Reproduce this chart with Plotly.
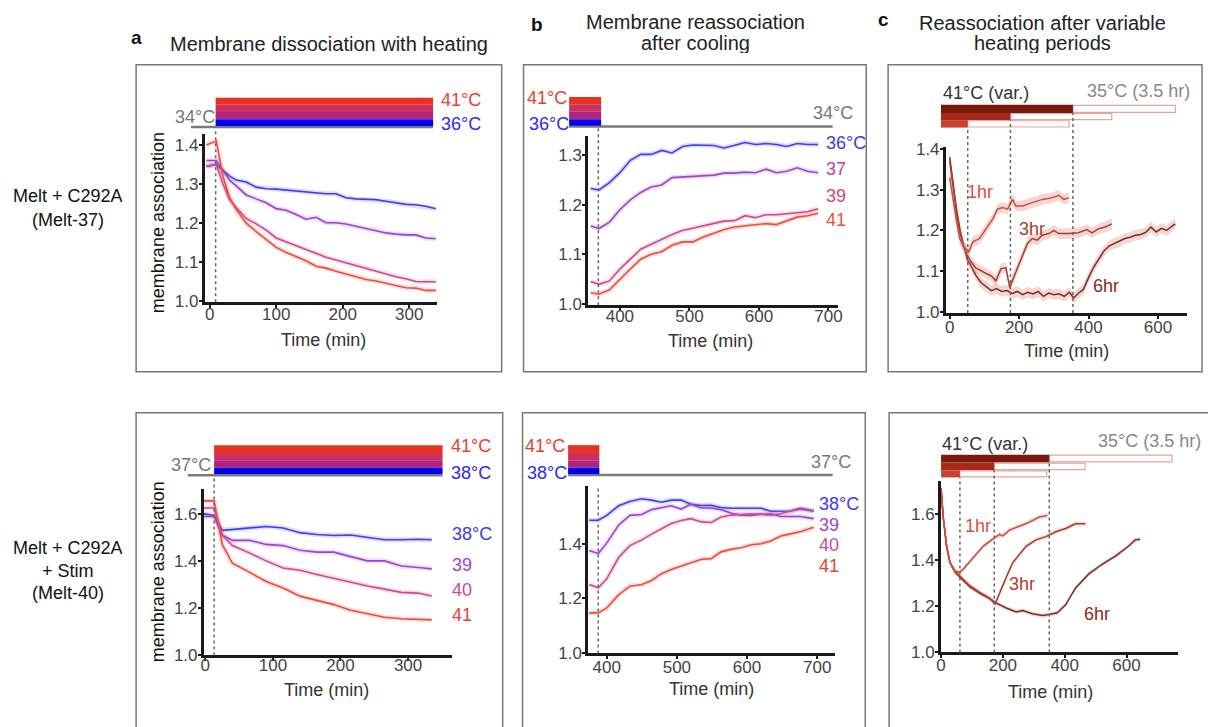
import plotly.graph_objects as go

W, H = 1208, 727
FONT = "Liberation Sans, Arial, Helvetica, sans-serif"

# ------------------------------------------------------------------ data
# Panel a, Melt-37 (heating 34 -> 36/37/39/41 C)
A1_T = [-5, 10, 20, 30, 40, 55, 70, 85, 100, 115, 130, 145, 160, 175, 190, 205, 220, 235, 250, 265, 280, 295, 310, 325, 340]
A1_36 = [1.345, 1.350, 1.335, 1.320, 1.310, 1.305, 1.292, 1.288, 1.287, 1.285, 1.282, 1.280, 1.278, 1.275, 1.275, 1.265, 1.262, 1.261, 1.260, 1.256, 1.252, 1.248, 1.247, 1.243, 1.237]
A1_37 = [1.360, 1.360, 1.335, 1.310, 1.295, 1.272, 1.262, 1.252, 1.237, 1.233, 1.222, 1.210, 1.215, 1.201, 1.201, 1.198, 1.192, 1.186, 1.180, 1.175, 1.172, 1.170, 1.170, 1.162, 1.160]
A1_39 = [1.345, 1.350, 1.300, 1.260, 1.240, 1.212, 1.198, 1.182, 1.162, 1.152, 1.143, 1.132, 1.122, 1.113, 1.106, 1.099, 1.091, 1.083, 1.076, 1.069, 1.063, 1.058, 1.051, 1.050, 1.050]
A1_41 = [1.400, 1.410, 1.320, 1.265, 1.235, 1.200, 1.178, 1.157, 1.138, 1.125, 1.114, 1.104, 1.090, 1.085, 1.077, 1.070, 1.063, 1.056, 1.052, 1.046, 1.040, 1.035, 1.034, 1.028, 1.028]

# Panel b, Melt-37 (cooling back to 34 C)
B1_T = [358, 370, 385, 400, 415, 430, 445, 460, 475, 490, 505, 520, 535, 550, 565, 580, 595, 610, 625, 640, 655, 670, 685]
B1_36 = [1.233, 1.230, 1.245, 1.265, 1.290, 1.302, 1.302, 1.310, 1.305, 1.318, 1.321, 1.321, 1.320, 1.315, 1.320, 1.326, 1.322, 1.324, 1.322, 1.318, 1.324, 1.322, 1.322]
B1_37 = [1.157, 1.152, 1.165, 1.190, 1.210, 1.225, 1.236, 1.240, 1.255, 1.256, 1.257, 1.258, 1.260, 1.264, 1.264, 1.266, 1.265, 1.272, 1.265, 1.268, 1.275, 1.268, 1.265]
B1_39 = [1.045, 1.039, 1.046, 1.070, 1.090, 1.110, 1.120, 1.130, 1.140, 1.148, 1.153, 1.158, 1.163, 1.167, 1.168, 1.178, 1.174, 1.180, 1.180, 1.182, 1.184, 1.186, 1.192]
B1_41 = [1.022, 1.019, 1.028, 1.050, 1.070, 1.090, 1.100, 1.105, 1.118, 1.125, 1.125, 1.135, 1.142, 1.150, 1.155, 1.157, 1.160, 1.162, 1.160, 1.168, 1.175, 1.178, 1.183]

# Panel c, Melt-37 (41 C for 1/3/6 hr then 35 C)
C1_6H_T = [0, 10, 20, 30, 40, 50, 60, 75, 90, 105, 120, 135, 150, 165, 180, 195, 210, 225, 240, 255, 270, 285, 300, 315, 330, 345, 357, 370, 385, 400, 415, 430, 445, 460, 475, 490, 505, 520, 535, 550, 565, 580, 595, 610, 625, 640, 650]
C1_6H = [1.380, 1.310, 1.250, 1.200, 1.165, 1.130, 1.115, 1.090, 1.072, 1.062, 1.052, 1.057, 1.050, 1.052, 1.045, 1.050, 1.042, 1.048, 1.044, 1.050, 1.038, 1.046, 1.042, 1.044, 1.038, 1.048, 1.034, 1.045, 1.055, 1.084, 1.110, 1.130, 1.150, 1.162, 1.168, 1.172, 1.180, 1.183, 1.188, 1.190, 1.195, 1.208, 1.196, 1.205, 1.200, 1.210, 1.216]
C1_3H_T = [0, 10, 20, 30, 40, 50, 60, 75, 90, 105, 120, 133, 148, 162, 173, 190, 205, 224, 238, 252, 267, 286, 300, 314, 343, 371, 395, 410, 429, 448, 467]
C1_3H = [1.370, 1.300, 1.240, 1.190, 1.160, 1.140, 1.125, 1.108, 1.100, 1.094, 1.088, 1.076, 1.106, 1.108, 1.060, 1.095, 1.130, 1.168, 1.180, 1.176, 1.188, 1.192, 1.200, 1.192, 1.192, 1.194, 1.202, 1.194, 1.204, 1.208, 1.216]
C1_1H_T = [0, 10, 20, 29, 40, 55, 67, 86, 105, 124, 138, 152, 167, 181, 190, 210, 238, 267, 295, 314, 329, 343]
C1_1H = [1.330, 1.270, 1.220, 1.180, 1.160, 1.148, 1.172, 1.180, 1.204, 1.228, 1.252, 1.256, 1.252, 1.276, 1.260, 1.260, 1.268, 1.276, 1.280, 1.286, 1.276, 1.280]
C1_SEM = 0.013

# Panel a, Melt-40 (heating 37 -> 38/39/40/41 C)
A2_T = [-2, 13, 25, 40, 65, 90, 115, 140, 165, 190, 215, 240, 265, 290, 315, 335]
A2_38 = [1.600, 1.593, 1.530, 1.534, 1.538, 1.546, 1.540, 1.520, 1.512, 1.508, 1.510, 1.500, 1.490, 1.490, 1.492, 1.490]
A2_39 = [1.589, 1.589, 1.510, 1.487, 1.488, 1.470, 1.465, 1.445, 1.437, 1.437, 1.418, 1.400, 1.400, 1.378, 1.372, 1.366]
A2_40 = [1.625, 1.625, 1.510, 1.465, 1.434, 1.400, 1.370, 1.360, 1.342, 1.325, 1.310, 1.293, 1.280, 1.266, 1.263, 1.251]
A2_41 = [1.655, 1.655, 1.470, 1.390, 1.352, 1.312, 1.285, 1.250, 1.232, 1.214, 1.190, 1.176, 1.160, 1.154, 1.151, 1.149]

# Panel b, Melt-40 (cooling back to 37 C)
B2_T = [375, 388, 400, 417, 433, 450, 464, 478, 492, 506, 520, 535, 549, 563, 578, 592, 606, 620, 634, 648, 662, 676, 695]
B2_38 = [1.486, 1.486, 1.504, 1.539, 1.555, 1.565, 1.560, 1.552, 1.560, 1.560, 1.545, 1.540, 1.541, 1.533, 1.530, 1.530, 1.530, 1.530, 1.519, 1.520, 1.520, 1.530, 1.521]
B2_39 = [1.375, 1.364, 1.402, 1.468, 1.504, 1.507, 1.525, 1.532, 1.539, 1.527, 1.545, 1.531, 1.531, 1.525, 1.512, 1.505, 1.504, 1.508, 1.510, 1.500, 1.500, 1.500, 1.492]
B2_40 = [1.250, 1.238, 1.271, 1.349, 1.393, 1.414, 1.435, 1.455, 1.474, 1.485, 1.492, 1.480, 1.478, 1.498, 1.505, 1.507, 1.510, 1.508, 1.505, 1.510, 1.520, 1.527, 1.519]
B2_41 = [1.146, 1.146, 1.164, 1.212, 1.244, 1.250, 1.265, 1.290, 1.305, 1.318, 1.330, 1.343, 1.345, 1.370, 1.380, 1.385, 1.396, 1.400, 1.410, 1.428, 1.436, 1.444, 1.460]

# Panel c, Melt-40
C2_6H_T = [0, 7, 18, 29, 45, 66, 93, 125, 157, 179, 211, 243, 264, 296, 328, 350, 376, 403, 435, 478, 521, 564, 606, 628, 644]
C2_6H = [1.710, 1.585, 1.458, 1.387, 1.345, 1.317, 1.282, 1.254, 1.232, 1.211, 1.190, 1.173, 1.179, 1.165, 1.158, 1.162, 1.169, 1.204, 1.277, 1.338, 1.380, 1.415, 1.458, 1.486, 1.489]
C2_3H_T = [0, 7, 18, 29, 45, 66, 93, 125, 157, 175, 195, 211, 232, 253, 275, 307, 339, 371, 403, 435, 467]
C2_3H = [1.710, 1.585, 1.458, 1.387, 1.350, 1.322, 1.287, 1.258, 1.232, 1.208, 1.275, 1.324, 1.387, 1.423, 1.458, 1.486, 1.500, 1.521, 1.535, 1.556, 1.556]
C2_1H_T = [0, 7, 18, 29, 45, 59, 72, 104, 136, 157, 179, 189, 200, 221, 253, 286, 318, 344]
C2_1H = [1.710, 1.585, 1.458, 1.387, 1.350, 1.345, 1.359, 1.408, 1.458, 1.479, 1.500, 1.510, 1.503, 1.528, 1.545, 1.563, 1.585, 1.592]
C2_SEM = 0.009

# Heating protocol (minutes)
A1_HEAT, A1_BASE = (9, 336), (-28, 336)
B1_HEAT, B1_BASE, B1_COOL = (327, 373), (327, 706), 369
A2_HEAT, A2_BASE = (13, 351), (-26, 351)
B2_HEAT, B2_BASE, B2_COOL = (345, 389.5), (345, 722), 388
C1_START, C1_HEAT_END, C1_REC_END = -25, [355, 175, 52], [650, 467, 344]
C2_START, C2_HEAT_END, C2_REC_END = 0, [350, 172, 61], [747, 466, 342]

# Tick labels
A_XT = [0, 100, 200, 300]
B_XT = [400, 500, 600, 700]
C_XT = [0, 200, 400, 600]

# ------------------------------------------------------------------ layout helpers
PANELS = {
    "A1": dict(n=1, dom=(202, 436, 130, 302), xr=(-7.5, 342), yr=(0.9975, 1.4275), xt=A_XT, yt=[1.0, 1.1, 1.2, 1.3, 1.4], so=-9),
    "B1": dict(n=2, dom=(588, 840, 132, 305), xr=(354.3, 714.3), yr=(0.9967, 1.339), xt=B_XT, yt=[1.0, 1.1, 1.2, 1.3], so=-9),
    "C1": dict(n=3, dom=(948, 1191, 143, 313), xr=(-11.4, 684), yr=(0.9968, 1.405), xt=C_XT, yt=[1.0, 1.1, 1.2, 1.3, 1.4], so=-6),
    "A2": dict(n=4, dom=(201, 451, 493, 663), xr=(-2.45, 365), yr=(0.998, 1.705), xt=A_XT, yt=[1.0, 1.2, 1.4, 1.6], so=-11),
    "B2": dict(n=5, dom=(588, 837, 490, 661), xr=(373.5, 726), yr=(0.997, 1.611), xt=B_XT, yt=[1.0, 1.2, 1.4], so=-7),
    "C2": dict(n=6, dom=(943, 1182, 485, 660), xr=(-1, 767), yr=(0.997, 1.74), xt=C_XT, yt=[1.0, 1.2, 1.4, 1.6], so=-8),
}


def px(x):
    return x / W


def py(y):
    return 1 - y / H


def names(p):
    n = PANELS[p]["n"]
    s = "" if n == 1 else str(n)
    return "x" + s, "y" + s


def xfrac(p, t):
    r0, r1 = PANELS[p]["xr"]
    return (t - r0) / (r1 - r0)


fig = go.Figure()
shapes = []
annotations = []

for p, c in PANELS.items():
    n = c["n"]
    s = "" if n == 1 else str(n)
    x0, x1, ytop, ybot = c["dom"]
    axcommon = dict(showgrid=False, zeroline=False, showline=True, linecolor="#1a1a1a", linewidth=2.5,
                    ticks="outside", ticklen=3, tickwidth=1.5, tickcolor="#1a1a1a",
                    tickfont=dict(family=FONT, size=17, color="#444"), fixedrange=True)
    fig.layout["xaxis" + s] = dict(axcommon, domain=[px(x0), px(x1)], range=list(c["xr"]),
                                   tickvals=c["xt"], anchor="y" + s, ticklabelstandoff=c["so"])
    fig.layout["yaxis" + s] = dict(axcommon, domain=[py(ybot), py(ytop)], range=list(c["yr"]),
                                   tickvals=c["yt"], tickformat=".1f", anchor="x" + s, ticklabelstandoff=-3)


def add_line(p, t, y, color, width=1.6, halo=True):
    xa, ya = names(p)
    if halo:
        fig.add_trace(go.Scatter(x=t, y=y, mode="lines", line=dict(color=color, width=5), opacity=0.17,
                                 xaxis=xa, yaxis=ya, hoverinfo="skip", showlegend=False))
    fig.add_trace(go.Scatter(x=t, y=y, mode="lines", line=dict(color=color, width=width),
                             xaxis=xa, yaxis=ya, showlegend=False))


def add_band(p, t, y, sem, color):
    xa, ya = names(p)
    lo = [v - sem for v in y]
    hi = [v + sem for v in y]
    fig.add_trace(go.Scatter(x=t, y=lo, mode="lines", line=dict(width=0), xaxis=xa, yaxis=ya,
                             hoverinfo="skip", showlegend=False))
    fig.add_trace(go.Scatter(x=t, y=hi, mode="lines", line=dict(width=0), fill="tonexty",
                             fillcolor="rgba(214,130,120,0.32)", xaxis=xa, yaxis=ya,
                             hoverinfo="skip", showlegend=False))
    fig.add_trace(go.Scatter(x=t, y=y, mode="lines", line=dict(color=color, width=1.5),
                             xaxis=xa, yaxis=ya, showlegend=False))


def ann(x, y, text, size=18, color="#333", xanchor="center", yanchor="middle", align="center", angle=0,
        height=None):
    d = dict(x=px(x), y=py(y), xref="paper", yref="paper", text=text, showarrow=False,
             xanchor=xanchor, yanchor=yanchor, align=align, textangle=angle,
             font=dict(family=FONT, size=size, color=color))
    if height:
        d["height"] = height
    annotations.append(d)


def ann_data(p, t, v, text, color, size=18):
    xa, ya = names(p)
    annotations.append(dict(x=t, y=v, xref=xa, yref=ya, text=text, showarrow=False, xanchor="left",
                            yanchor="middle", font=dict(family=FONT, size=size, color=color)))


def rect(p, t0, t1, ytop, ybot, fill, line_color=None, lw=0):
    xa, _ = names(p)
    shapes.append(dict(type="rect", xref=xa + " domain", yref="paper",
                       x0=xfrac(p, t0), x1=xfrac(p, t1), y0=py(ybot), y1=py(ytop),
                       fillcolor=fill, line=dict(color=line_color or fill, width=lw), layer="above"))


def hline(p, t0, t1, y, color="#7a7a7a", width=2.5):
    xa, _ = names(p)
    shapes.append(dict(type="line", xref=xa + " domain", yref="paper", x0=xfrac(p, t0), x1=xfrac(p, t1),
                       y0=py(y), y1=py(y), line=dict(color=color, width=width), layer="above"))


def vdash(p, t, ytop, ybot):
    xa, _ = names(p)
    shapes.append(dict(type="line", xref=xa, yref="paper", x0=t, x1=t, y0=py(ybot), y1=py(ytop),
                       line=dict(color="#666", width=1.5, dash="dot"), layer="above"))


STRIPES = ["#e8321e", "#cc3060", "#b0237e", "#0000ee"]
BLUE, PURPLE, PINK, RED = "#3f3ff0", "#9a44d0", "#cf4a8a", "#f04a3a"

# ---------------- panel boxes
for (x0, y0, x1, y1) in [(133, 59, 501, 373), (523, 59, 868, 373), (890, 59, 1206, 373),
                         (133, 415, 502, 745), (522, 415, 867, 745), (891, 415, 1215, 745)]:
    shapes.append(dict(type="rect", xref="paper", yref="paper", x0=px(x0), x1=px(x1), y0=py(y1), y1=py(y0),
                       line=dict(color="#777", width=1.5), fillcolor="rgba(0,0,0,0)", layer="below"))

# ---------------- A1
add_line("A1", A1_T, A1_36, BLUE)
add_line("A1", A1_T, A1_37, PURPLE)
add_line("A1", A1_T, A1_39, PINK)
add_line("A1", A1_T, A1_41, RED)
hline("A1", A1_BASE[0], A1_BASE[1], 122.8)
ys = [92.7, 100, 107.3, 114.8, 121.7]
for i, col in enumerate(STRIPES):
    rect("A1", A1_HEAT[0], A1_HEAT[1], ys[i], ys[i + 1], col)
vdash("A1", A1_HEAT[0], 124, 302)
ann(170, 112, "34°C", color="#777", xanchor="left")
ann(438, 95, "41°C", color="#e8402e", xanchor="left")
ann(438, 120, "36°C", color="#2a2aee", xanchor="left")
ann_data("A1", 352, 1.2325, "36°C", "#3a3aee")
ann_data("A1", 352, 1.160, "37", "#c03c9c")
ann_data("A1", 352, 1.090, "39", "#d0447a")
ann_data("A1", 352, 1.035, "41", "#e8503c")

# ---------------- B1
add_line("B1", B1_T, B1_36, BLUE)
add_line("B1", B1_T, B1_37, PURPLE)
add_line("B1", B1_T, B1_39, PINK)
add_line("B1", B1_T, B1_41, RED)
hline("B1", B1_BASE[0], B1_BASE[1], 122.3)
ys = [92, 99.5, 107, 114.8, 121.5]
for i, col in enumerate(STRIPES):
    rect("B1", B1_HEAT[0], B1_HEAT[1], ys[i], ys[i + 1], col)
vdash("B1", B1_COOL, 123, 305)
ann(857, 108, "34°C", color="#777", xanchor="right")
ann(569, 93, "41°C", color="#e8402e", xanchor="right")
ann(571, 120, "36°C", color="#2a2aee", xanchor="right")
ann_data("B1", 693, 1.325, "36°C", "#3a3aee")
ann_data("B1", 693, 1.272, "37", "#c03c9c")
ann_data("B1", 693, 1.2185, "39", "#d0447a")
ann_data("B1", 693, 1.170, "41", "#e8503c")

# ---------------- C panels
C_FILL = ["#78190c", "#a8281a", "#c8402f"]
C_OUT = "#e2a49c"
C_LINE = {"6": "#7c2a22", "3": "#b23a2a", "1": "#d24c3c"}


def c_bars(p, start, heat_end, rec_end, rows):
    for i in range(3):
        rect(p, heat_end[i], rec_end[i], rows[i] + 0.6, rows[i + 1] - 0.6, "white", C_OUT, 1.2)
        rect(p, start, heat_end[i], rows[i], rows[i + 1], C_FILL[i])


add_band("C1", C1_6H_T, C1_6H, C1_SEM, C_LINE["6"])
add_band("C1", C1_3H_T, C1_3H, C1_SEM, C_LINE["3"])
add_band("C1", C1_1H_T, C1_1H, C1_SEM, C_LINE["1"])
rows = [100, 108.3, 115.7, 123.3]
c_bars("C1", C1_START, C1_HEAT_END, C1_REC_END, rows)
for i in range(3):
    vdash("C1", C1_HEAT_END[i], rows[i + 1], 313)
ann(943, 88, "41°C (var.)", color="#333", xanchor="left")
ann(1196, 86, "35°C (3.5 hr)", color="#888", xanchor="right")
ann(983, 189, "1hr", color="#d85040")
ann(1035, 227, "3hr", color="#b03a2a")
ann(1109, 285, "6hr", color="#8a2a20")

add_band("C2", C2_6H_T, C2_6H, C2_SEM, C_LINE["6"])
add_band("C2", C2_3H_T, C2_3H, C2_SEM, C_LINE["3"])
add_band("C2", C2_1H_T, C2_1H, C2_SEM, C_LINE["1"])
rows = [457.7, 465.7, 473.7, 481]
c_bars("C2", C2_START, C2_HEAT_END, C2_REC_END, rows)
for i in range(3):
    vdash("C2", C2_HEAT_END[i], rows[i + 1], 660)
ann(942, 447, "41°C (var.)", color="#333", xanchor="left")
ann(1207, 444, "35°C (3.5 hr)", color="#888", xanchor="right")
ann(980, 531, "1hr", color="#d85040")
ann(1025, 590, "3hr", color="#b03a2a")
ann(1100, 621, "6hr", color="#8a2a20")

# ---------------- A2
add_line("A2", A2_T, A2_38, BLUE)
add_line("A2", A2_T, A2_39, PURPLE)
add_line("A2", A2_T, A2_40, PINK)
add_line("A2", A2_T, A2_41, RED)
hline("A2", A2_BASE[0], A2_BASE[1], 478.7)
ys = [448, 456, 463.5, 471, 477.5]
for i, col in enumerate(STRIPES):
    rect("A2", A2_HEAT[0], A2_HEAT[1], ys[i], ys[i + 1], col)
vdash("A2", A2_HEAT[0], 480, 663)
ann(166, 468, "37°C", color="#777", xanchor="left")
ann(448, 449, "41°C", color="#e8402e", xanchor="left")
ann(448, 476, "38°C", color="#2a2aee", xanchor="left")
ann_data("A2", 362, 1.515, "38°C", "#3a3aee")
ann_data("A2", 362, 1.384, "39", "#a040d0")
ann_data("A2", 362, 1.277, "40", "#d04890")
ann_data("A2", 362, 1.170, "41", "#ee4030")

# ---------------- B2
add_line("B2", B2_T, B2_38, BLUE)
add_line("B2", B2_T, B2_39, PURPLE)
add_line("B2", B2_T, B2_40, PINK)
add_line("B2", B2_T, B2_41, RED)
hline("B2", B2_BASE[0], B2_BASE[1], 478.5)
ys = [448, 456, 463.5, 471, 477.5]
for i, col in enumerate(STRIPES):
    rect("B2", B2_HEAT[0], B2_HEAT[1], ys[i], ys[i + 1], col)
vdash("B2", B2_COOL, 492, 661)
ann(855, 465, "37°C", color="#777", xanchor="right")
ann(567, 449, "41°C", color="#e8402e", xanchor="right")
ann(569, 476, "38°C", color="#2a2aee", xanchor="right")
ann_data("B2", 699, 1.545, "38°C", "#3a3aee")
ann_data("B2", 699, 1.468, "39", "#a040d0")
ann_data("B2", 699, 1.396, "40", "#d04890")
ann_data("B2", 699, 1.318, "41", "#ee4030")

# ---------------- axis titles
for (x, y) in [(322, 340), (711, 342), (1070, 352), (325, 698), (712, 697), (1053, 700)]:
    ann(x, y, "Time (min)", color="#333")
for y in [220, 577]:
    ann(155, y, "membrane association", size=18, color="#111", angle=-90)

# ---------------- panel titles and row labels
ann(133, 31, "<b>a</b>", size=19, color="#111")
ann(327, 38, "Membrane dissociation with heating", size=20, color="#222")
ann(537, 18, "<b>b</b>", size=19, color="#111")
ann(696, 15, "Membrane reassociation", size=20, color="#222", height=20)
ann(696, 37, "after cooling", size=20, color="#222", height=20)
ann(885, 13, "<b>c</b>", size=19, color="#111")
ann(1045, 16, "Reassociation after variable", size=20, color="#222", height=20)
ann(1045, 37, "heating periods", size=20, color="#222", height=20)
ann(64, 193, "Melt + C292A", size=18, color="#111", height=21)
ann(64, 217, "(Melt-37)", size=18, color="#111", height=21)
ann(64, 553, "Melt + C292A", size=18, color="#111", height=21)
ann(64, 576, "+ Stim", size=18, color="#111", height=21)
ann(64, 599, "(Melt-40)", size=18, color="#111", height=21)

fig.update_layout(width=W, height=H, margin=dict(l=0, r=0, t=0, b=0),
                  paper_bgcolor="white", plot_bgcolor="rgba(0,0,0,0)",
                  shapes=shapes, annotations=annotations, showlegend=False,
                  font=dict(family=FONT))
fig.write_html("out.html", config={"displayModeBar": False})
